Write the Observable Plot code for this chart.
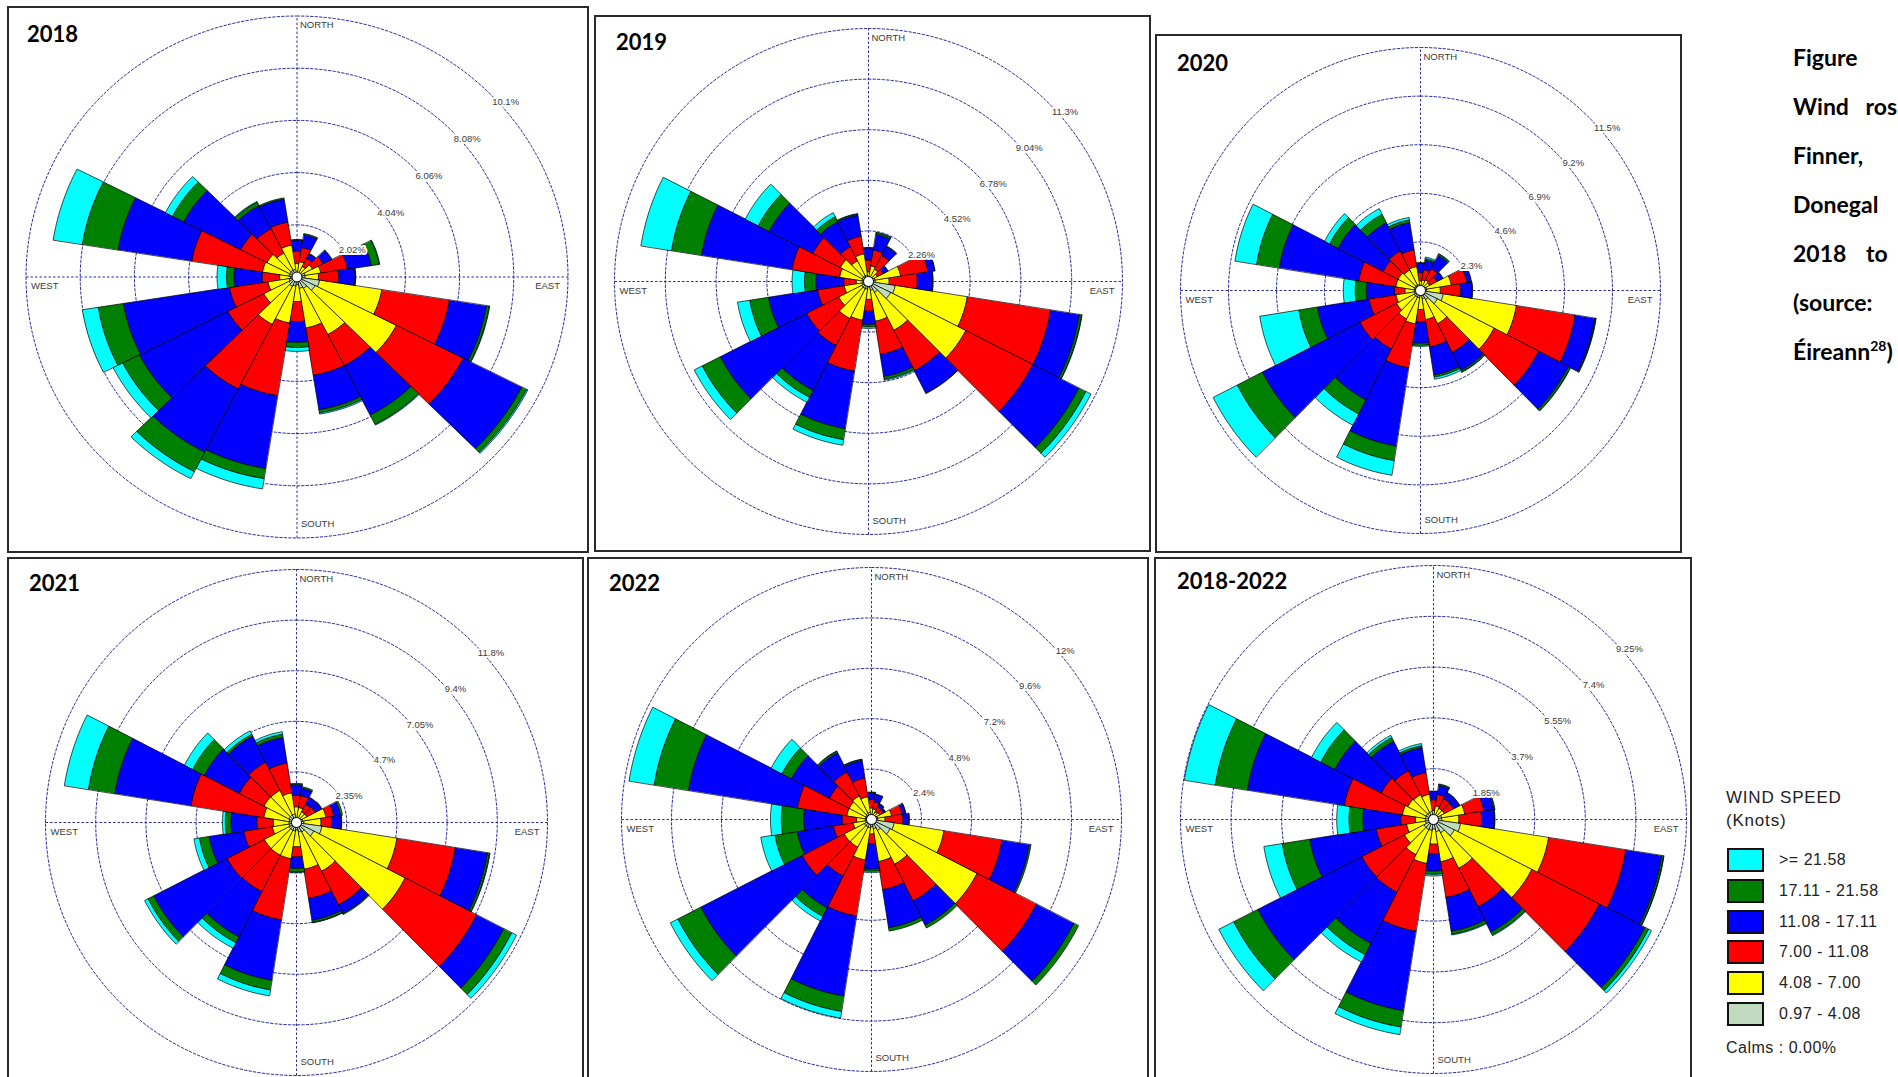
<!DOCTYPE html>
<html><head><meta charset="utf-8">
<script src="https://cdn.jsdelivr.net/npm/d3@7"></script>
<script src="https://cdn.jsdelivr.net/npm/@observablehq/plot@0.6"></script>
<style>
html,body{margin:0;padding:0;background:#fff;}
body{width:1898px;height:1077px;overflow:hidden;position:relative;font-family:"Liberation Sans",Arial,sans-serif;}
.box{position:absolute;border:2px solid #2a2a2a;box-sizing:border-box;pointer-events:none;z-index:2;}
.ttl{position:absolute;font:700 22px/22px Lato,sans-serif;color:#000;white-space:nowrap;z-index:3;}
.side{position:absolute;left:1793px;font:700 23px/23px Lato,sans-serif;color:#000;white-space:pre;}
.lg{position:absolute;left:1726px;color:#222;font-size:17px;line-height:17px;letter-spacing:0.8px;white-space:nowrap;}
.lgbox{position:absolute;left:1727px;width:37px;height:24px;border:2px solid #111;box-sizing:border-box;}
.lgtxt{position:absolute;left:1779px;height:24px;line-height:24px;font-size:16px;letter-spacing:0.5px;color:#222;white-space:nowrap;}
</style></head><body>
<script>
// ---------- data ----------
const dirs = d3.range(0, 360, 18); // 20 sectors
const speedBins = ["0.97 - 4.08", "4.08 - 7.00", "7.00 - 11.08", "11.08 - 17.11", "17.11 - 21.58", ">= 21.58"];
const binColors = ["#c0dcc0", "#ffff00", "#ff0000", "#0000ff", "#008000", "#00ffff"];

// percent frequency per direction (rows: 0°,18°,...,342°) per speed bin (cols: speedBins order)
const v2018 = [
 [0.15,0.37,0.48,0.43,0.02,0],[0.15,0.45,0.55,0.5,0.05,0],[0.15,0.3,0.35,0.2,0.02,0],[0.2,0.45,0.45,0.35,0.02,0],
 [0.3,0.6,1.0,0.9,0.3,0.02],[0.3,0.5,0.75,0.62,0.02,0],[0.85,2.35,2.55,1.4,0.1,0.02],[0.75,3.4,2.8,2.45,0.2,0.05],
 [0.5,2.0,1.35,2.15,0.4,0.03],[0.45,1.55,1.85,1.35,0.12,0.05],[0.3,0.65,0.78,0.8,0.2,0.15],[0.35,1.45,2.85,2.85,0.4,0.4],
 [0.4,1.65,2.8,2.75,0.85,0.3],[0.35,1.05,1.5,3.7,0.7,0.4],[0.3,0.8,1.45,4.0,0.95,0.6],[0.25,0.4,0.65,1.05,0.28,0.35],
 [0.3,1.0,2.67,2.78,1.35,1.1],[0.3,0.95,1.1,2.38,0.47,0.3],[0.3,0.75,1.05,1.0,0.15,0.03],[0.3,0.95,0.9,0.9,0.05,0]];
const v2019 = [
 [0.15,0.28,0.53,0.54,0.02,0],[0.15,0.55,0.72,0.7,0.08,0.02],[0.15,0.45,0.7,0.45,0.03,0],[0.15,0.3,0.3,0.22,0.02,0],
 [0.3,1.15,1.23,0.3,0.02,0],[0.3,0.62,1.25,0.68,0.03,0],[1.2,3.25,3.75,1.3,0.1,0.02],[1.1,3.75,3.35,2.3,0.35,0.25],
 [0.55,1.9,2.02,1.13,0.02,0],[0.4,1.4,1.5,1.0,0.12,0.05],[0.25,0.55,0.53,0.6,0.1,0.07],[0.35,1.4,2.3,2.6,0.5,0.25],
 [0.35,1.5,1.35,2.25,0.35,0.25],[0.35,1.15,1.6,4.3,0.9,0.4],[0.3,0.8,1.2,2.2,0.85,0.55],[0.25,0.3,0.55,1.25,0.5,0.55],
 [0.3,1.0,2.15,4.07,1.35,1.38],[0.3,1.1,1.38,2.17,0.55,0.65],[0.3,0.75,0.7,1.25,0.25,0.2],[0.3,0.95,0.8,0.95,0.05,0.02]];
const v2020 = [
 [0.15,0.3,0.4,0.45,0.02,0],[0.15,0.35,0.5,0.45,0.08,0.07],[0.15,0.4,0.6,0.7,0.08,0.02],[0.15,0.35,0.4,0.3,0.03,0],
 [0.3,1.2,0.75,0.2,0.03,0],[0.3,0.65,0.97,0.55,0.03,0],[1.1,3.55,2.85,0.95,0.05,0.02],[0.9,3.05,2.4,1.6,0.1,0.02],
 [0.5,1.27,1.53,0.95,0.08,0.02],[0.4,1.0,1.3,1.35,0.1,0.1],[0.25,0.65,0.6,1.0,0.1,0.05],[0.35,1.25,2.1,3.75,0.7,0.7],
 [0.35,1.15,1.6,2.7,0.75,0.6],[0.35,0.95,1.97,5.23,1.35,1.3],[0.3,0.9,1.3,2.5,0.9,1.9],[0.3,0.45,0.5,1.35,0.53,0.57],
 [0.3,0.9,1.8,3.85,1.1,1.05],[0.3,0.9,0.8,2.42,0.46,0.27],[0.3,0.8,1.0,1.5,0.45,0.3],[0.3,0.85,0.8,1.3,0.13,0.12]];
const v2021 = [
 [0.2,0.53,0.54,0.5,0.05,0],[0.2,0.5,0.56,0.35,0.07,0],[0.2,0.35,0.4,0.35,0.02,0],[0.2,0.35,0.45,0.32,0.03,0],
 [0.3,1.1,0.37,0.31,0.1,0],[0.35,0.8,0.5,0.45,0.02,0],[1.2,3.56,2.77,1.52,0.1,0.02],[0.9,4.8,3.76,1.42,0.42,0.25],
 [0.5,2.05,1.75,0.45,0.05,0],[0.45,1.75,1.37,1.03,0.1,0.02],[0.35,0.78,0.47,0.54,0.16,0.02],[0.4,1.3,2.88,2.84,0.45,0.28],
 [0.4,1.3,1.9,2.35,0.31,0.29],[0.4,1.3,1.95,3.85,0.3,0.18],[0.35,0.8,1.35,1.64,0.46,0.26],[0.35,0.74,0.77,1.21,0.26,0.14],
 [0.35,1.2,3.45,3.61,1.25,1.14],[0.4,1.3,1.3,1.84,0.61,0.43],[0.4,1.28,1.47,1.35,0.1,0.18],[0.4,1.0,1.4,1.2,0.15,0.12]];
const v2022 = [
 [0.2,0.35,0.4,0.33,0.03,0],[0.2,0.3,0.35,0.35,0.02,0],[0.15,0.25,0.25,0.18,0.02,0],[0.15,0.3,0.2,0.1,0.01,0],
 [0.3,0.68,0.52,0.16,0.01,0],[0.3,0.35,0.86,0.29,0.02,0],[1.1,2.42,2.82,1.33,0.08,0],[1.0,4.68,3.2,2.02,0.25,0],
 [0.6,1.8,1.96,1.29,0.15,0],[0.45,1.58,1.35,1.84,0.16,0],[0.35,0.34,0.48,1.2,0.1,0.06],[0.4,1.55,2.7,3.86,0.74,0.32],
 [0.4,1.07,1.55,1.69,0.46,0.25],[0.4,1.08,2.26,5.45,1.24,0.41],[0.3,0.6,0.95,1.76,1.08,0.69],[0.3,0.42,0.69,1.84,1.08,0.52],
 [0.3,0.9,2.4,5.29,1.67,1.22],[0.3,0.9,1.06,2.04,0.52,0.58],[0.35,0.92,1.28,1.02,0.08,0.02],[0.35,0.75,0.9,0.84,0.05,0.02]];
const vAll = [
 [0.15,0.18,0.39,0.3,0.02,0],[0.15,0.35,0.42,0.33,0.04,0.02],[0.15,0.3,0.39,0.24,0.02,0],[0.15,0.3,0.38,0.24,0.02,0],
 [0.3,0.86,0.71,0.35,0.04,0.02],[0.3,0.63,0.83,0.47,0.02,0],[1.0,3.26,2.86,1.33,0.07,0.01],[0.85,3.18,2.77,1.87,0.15,0.12],
 [0.55,1.45,1.57,1.03,0.12,0.03],[0.45,1.11,1.31,1.25,0.11,0.03],[0.35,0.55,0.36,0.62,0.12,0.06],[0.4,1.22,2.5,2.93,0.6,0.28],
 [0.4,1.03,1.54,2.09,0.46,0.3],[0.4,0.8,1.75,4.26,0.99,0.61],[0.3,0.7,1.12,2.46,1.02,0.68],[0.3,0.36,0.54,1.38,0.51,0.45],
 [0.3,0.85,2.15,3.59,1.19,1.14],[0.3,0.75,1.09,1.9,0.58,0.38],[0.3,0.72,0.98,1.2,0.15,0.09],[0.3,0.63,0.8,0.92,0.07,0.08]];

// ring ticks (percent)
const ticks2018 = [2.02, 4.04, 6.06, 8.08, 10.1];
const ticks2019 = [2.26, 4.52, 6.78, 9.04, 11.3];
const ticks2020 = [2.3, 4.6, 6.9, 9.2, 11.5];
const ticks2021 = [2.35, 4.7, 7.05, 9.4, 11.75];
const ticks2022 = [2.4, 4.8, 7.2, 9.6, 12];
const ticksAll = [1.85, 3.7, 5.55, 7.4, 9.25];

const titles = ["2018", "2019", "2020", "2021", "2022", "2018-2022"];
const dirLabels = ["NORTH", "EAST", "SOUTH", "WEST"];

// ---------- layout ----------
const layout = [
  {values: v2018, ticks: ticks2018, box: [7, 6, 582, 547], center: [296.5, 276.5], rx: 271, ry: 261, title: [27, 23]},
  {values: v2019, ticks: ticks2019, box: [594, 15, 557, 537], center: [868, 281], rx: 254, ry: 253, title: [616, 31]},
  {values: v2020, ticks: ticks2020, box: [1155, 34, 527, 519], center: [1420, 290], rx: 240, ry: 243, title: [1177, 52]},
  {values: v2021, ticks: ticks2021, box: [7, 557, 577, 540], center: [296, 822], rx: 251, ry: 253, title: [29, 572]},
  {values: v2022, ticks: ticks2022, box: [587, 557, 562, 540], center: [871, 819], rx: 250, ry: 252, title: [609, 572]},
  {values: vAll, ticks: ticksAll, box: [1154, 557, 538, 540], center: [1433, 819], rx: 253, ry: 254, title: [1177, 570]}
];

const ringColor = "#2e2e9e";
const labFont = "'Liberation Sans', Arial, sans-serif";
const fmt = d3.format(".3~r");
const rad = Math.PI / 180;
const PX = d => d.r * Math.sin(d.a * rad);
const PY = d => d.r * Math.cos(d.a * rad);

layout.forEach((p, idx) => {
  const R = p.ticks[p.ticks.length - 1];
  const [bx, by, bw, bh] = p.box;
  const cx = p.center[0] - bx, cy = p.center[1] - by;

  const wedges = [];
  p.values.forEach((row, i) => {
    let cum = 0;
    row.forEach((v, j) => {
      const r0 = cum, r1 = cum + v; cum = r1;
      if (!(v > 0)) return;
      const id = i * 10 + j;
      for (let k = 0; k <= 18; k++) wedges.push({id, bin: speedBins[j], r: r1, a: dirs[i] - 9 + k});
      for (let k = 18; k >= 0; k--) wedges.push({id, bin: speedBins[j], r: r0, a: dirs[i] - 9 + k});
    });
  });
  const rings = p.ticks.flatMap(t => d3.range(0, 360, 2).map(a => ({t, r: t, a})));
  const axes = [{x1: 0, y1: -R, x2: 0, y2: R}, {x1: -R, y1: 0, x2: R, y2: 0}];
  const dashed = {stroke: ringColor, strokeWidth: 1, strokeDasharray: "2.5,2"};
  const lab = {fontSize: 9.5, fill: "#3a3a3a", fontFamily: labFont, letterSpacing: 0.3};

  const svg = Plot.plot({
    width: bw, height: bh, margin: 0,
    x: {domain: [-R, R], range: [cx - p.rx, cx + p.rx], axis: null},
    y: {domain: [-R, R], range: [cy + p.ry, cy - p.ry], axis: null},
    color: {domain: speedBins, range: binColors},
    style: `position:absolute;left:${bx}px;top:${by}px;background:transparent;overflow:hidden;max-width:none;`,
    marks: [
      Plot.line(rings, {x: PX, y: PY, z: "t", curve: "linear-closed", ...dashed}),
      Plot.link(axes, {x1: "x1", y1: "y1", x2: "x2", y2: "y2", ...dashed}),
      Plot.line(wedges, {x: PX, y: PY, z: "id", fill: "bin", stroke: "#000", strokeWidth: 0.7, curve: "linear-closed"}),
      Plot.dot([{x: 0, y: 0}], {x: "x", y: "y", r: 5, fill: "white", stroke: "#000", strokeWidth: 1}),
      Plot.text(p.ticks, {x: t => t * Math.SQRT1_2, y: t => t * Math.SQRT1_2, text: t => fmt(t) + "%",
        dx: 17, dy: 9.5, stroke: "white", strokeWidth: 4, ...lab}),
      Plot.text([{t: dirLabels[0], x: 0, y: R}], {x: "x", y: "y", text: "t", textAnchor: "start", dx: 3, dy: 9, ...lab}),
      Plot.text([{t: dirLabels[1], x: R, y: 0}], {x: "x", y: "y", text: "t", textAnchor: "end", dx: -8, dy: 9, ...lab}),
      Plot.text([{t: dirLabels[2], x: 0, y: -R}], {x: "x", y: "y", text: "t", textAnchor: "start", dx: 4, dy: -14, ...lab}),
      Plot.text([{t: dirLabels[3], x: -R, y: 0}], {x: "x", y: "y", text: "t", textAnchor: "start", dx: 5, dy: 9, ...lab})
    ]
  });
  document.body.appendChild(svg);

  const b = document.createElement("div");
  b.className = "box";
  Object.assign(b.style, {left: bx + "px", top: by + "px", width: bw + "px", height: bh + "px"});
  document.body.appendChild(b);

  const t = document.createElement("div");
  t.className = "ttl";
  t.textContent = titles[idx];
  Object.assign(t.style, {left: p.title[0] + "px", top: p.title[1] + "px"});
  document.body.appendChild(t);
});

// ---------- side caption (as visible in the reference, cut by the page edge) ----------
const sideLines = [
  {html: "Figure", top: 46, ws: 0},
  {html: "Wind ros", top: 95, ws: 11},
  {html: "Finner,", top: 144, ws: 0},
  {html: "Donegal", top: 193, ws: 0},
  {html: "2018 to", top: 242, ws: 14},
  {html: "(source:", top: 291, ws: 0},
  {html: "Éireann<sup style=\"font-size:14px;line-height:0\">28</sup>)", top: 340, ws: 0}
];
sideLines.forEach(l => {
  const d = document.createElement("div");
  d.className = "side";
  d.innerHTML = l.html;
  d.style.top = l.top + "px";
  d.style.wordSpacing = l.ws + "px";
  document.body.appendChild(d);
});

// ---------- legend ----------
function addDiv(cls, text, style) {
  const d = document.createElement("div");
  d.className = cls;
  if (text != null) d.textContent = text;
  Object.assign(d.style, style);
  document.body.appendChild(d);
  return d;
}
addDiv("lg", "WIND SPEED", {top: "789px"});
addDiv("lg", "(Knots)", {top: "812px"});
const legendOrder = speedBins.map((b, i) => i).reverse();
legendOrder.forEach((i, k) => {
  const top = 848 + k * 30.8;
  addDiv("lgbox", null, {top: top + "px", background: binColors[i]});
  addDiv("lgtxt", speedBins[i], {top: top + "px"});
});
addDiv("lgtxt", "Calms : 0.00%", {top: "1036px", left: "1726px"});
</script>
</body></html>
